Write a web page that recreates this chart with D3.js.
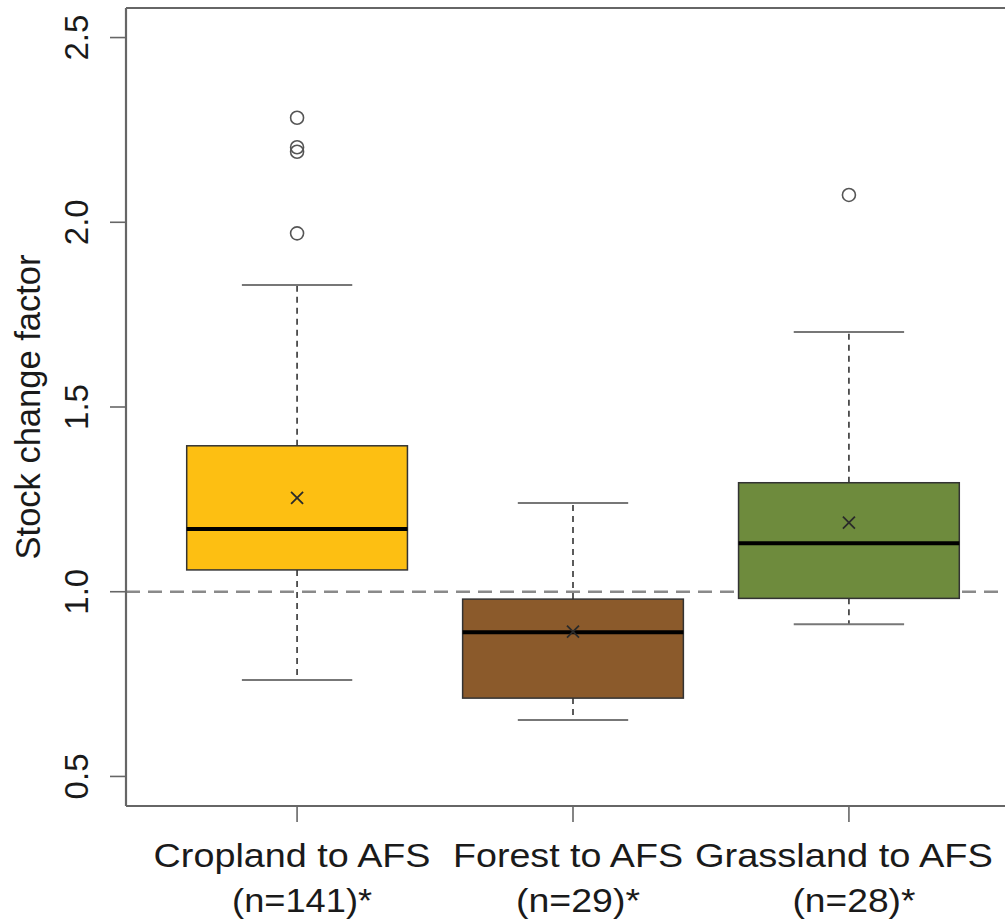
<!DOCTYPE html>
<html>
<head>
<meta charset="utf-8">
<script src="https://cdn.jsdelivr.net/npm/d3@7"></script>
<style>
  html, body { margin: 0; padding: 0; background: #fff; overflow: hidden; }
  svg { display: block; }
  text { font-family: "Liberation Sans", Arial, Helvetica, sans-serif; fill: #1a1a1a; }
</style>
</head>
<body>
<svg id="chart" width="1005" height="923"></svg>
<script>
// ---- data ----
const categories = ["Cropland to AFS", "Forest to AFS", "Grassland to AFS"];
const sampleLabels = ["(n=141)*", "(n=29)*", "(n=28)*"];
const whiskerLow = [0.761, 0.653, 0.912];
const q1 = [1.059, 0.712, 0.982];
const medians = [1.170, 0.890, 1.131];
const q3 = [1.395, 0.980, 1.295];
const whiskerHigh = [1.830, 1.240, 1.703];
const means = [1.254, 0.892, 1.187];
const outliers = [[2.283, 2.203, 2.191, 1.970], [], [2.074]];
const boxColors = ["#FDBF12", "#8B5A2B", "#6E8B3D"];
const yTicks = [0.5, 1.0, 1.5, 2.0, 2.5];
const referenceValue = 1.0;

// ---- layout ----
const svg = d3.select("#chart");
const plotLeft = 126, plotRight = 1020, plotTop = 8, plotBottom = 806;
const x = d3.scaleLinear().domain([0.38, 3.62]).range([plotLeft, plotRight]);
const y = d3.scaleLinear().domain([0.42, 2.58]).range([plotBottom, plotTop]);
const boxHalf = 0.4, capHalf = 0.2;
const axisColor = "#666";
// label typesetting (px), following the reference's slightly stretched text
const line1Shift = -5, line2Shift = 5;
const line1Len = [277, 230, 298], line2Len = [140, 124, 123];

// reference line
svg.append("line")
  .attr("x1", plotLeft).attr("x2", plotRight)
  .attr("y1", y(referenceValue)).attr("y2", y(referenceValue))
  .attr("stroke", "#8a8a8a").attr("stroke-width", 2.6)
  .attr("stroke-dasharray", "14,8");

const g = svg.append("g");
categories.forEach((c, i) => {
  const cx = x(i + 1);
  g.append("line").attr("x1", cx).attr("x2", cx)
    .attr("y1", y(q3[i])).attr("y2", y(whiskerHigh[i]))
    .attr("stroke", "#333").attr("stroke-width", 1.6).attr("stroke-dasharray", "6,5");
  g.append("line").attr("x1", cx).attr("x2", cx)
    .attr("y1", y(q1[i])).attr("y2", y(whiskerLow[i]))
    .attr("stroke", "#333").attr("stroke-width", 1.6).attr("stroke-dasharray", "6,5");
  [whiskerHigh[i], whiskerLow[i]].forEach(v => {
    g.append("line")
      .attr("x1", x(i + 1 - capHalf)).attr("x2", x(i + 1 + capHalf))
      .attr("y1", y(v)).attr("y2", y(v))
      .attr("stroke", "#777").attr("stroke-width", 2);
  });
  g.append("rect")
    .attr("x", x(i + 1 - boxHalf)).attr("width", x(i + 1 + boxHalf) - x(i + 1 - boxHalf))
    .attr("y", y(q3[i])).attr("height", y(q1[i]) - y(q3[i]))
    .attr("fill", boxColors[i]).attr("stroke", "#333").attr("stroke-width", 1.5);
  g.append("line")
    .attr("x1", x(i + 1 - boxHalf)).attr("x2", x(i + 1 + boxHalf))
    .attr("y1", y(medians[i])).attr("y2", y(medians[i]))
    .attr("stroke", "#000").attr("stroke-width", 4);
  // mean marker (x)
  const my = y(means[i]), s = 6;
  g.append("path")
    .attr("d", `M${cx - s},${my - s}L${cx + s},${my + s}M${cx - s},${my + s}L${cx + s},${my - s}`)
    .attr("stroke", "#2a2a2a").attr("stroke-width", 1.8).attr("fill", "none");
  outliers[i].forEach(v => {
    g.append("circle").attr("cx", cx).attr("cy", y(v)).attr("r", 6.5)
      .attr("fill", "none").attr("stroke", "#555").attr("stroke-width", 1.6);
  });
});

// frame: left, bottom, top
svg.append("line").attr("x1", plotLeft).attr("x2", plotLeft).attr("y1", plotTop).attr("y2", plotBottom)
  .attr("stroke", axisColor).attr("stroke-width", 2.2);
svg.append("line").attr("x1", plotLeft).attr("x2", plotRight).attr("y1", plotBottom).attr("y2", plotBottom)
  .attr("stroke", axisColor).attr("stroke-width", 2.2);
svg.append("line").attr("x1", plotLeft).attr("x2", plotRight).attr("y1", plotTop).attr("y2", plotTop)
  .attr("stroke", axisColor).attr("stroke-width", 2.2);

// y ticks
yTicks.forEach(t => {
  svg.append("line").attr("x1", plotLeft - 16).attr("x2", plotLeft)
    .attr("y1", y(t)).attr("y2", y(t)).attr("stroke", axisColor).attr("stroke-width", 1.6);
  svg.append("text")
    .attr("transform", `translate(88,${y(t)}) rotate(-90)`)
    .attr("text-anchor", "middle").attr("font-size", 33)
    .text(d3.format(".1f")(t));
});

// x ticks + labels
categories.forEach((c, i) => {
  const cx = x(i + 1);
  svg.append("line").attr("x1", cx).attr("x2", cx).attr("y1", plotBottom).attr("y2", plotBottom + 16)
    .attr("stroke", axisColor).attr("stroke-width", 1.6);
  svg.append("text").attr("x", cx + line1Shift).attr("y", 867).attr("text-anchor", "middle")
    .attr("font-size", 34).attr("textLength", line1Len[i]).attr("lengthAdjust", "spacingAndGlyphs")
    .text(c);
  svg.append("text").attr("x", cx + line2Shift).attr("y", 912).attr("text-anchor", "middle")
    .attr("font-size", 34).attr("textLength", line2Len[i]).attr("lengthAdjust", "spacingAndGlyphs")
    .text(sampleLabels[i]);
});

// y title
svg.append("text")
  .attr("transform", `translate(40,${(plotTop + plotBottom) / 2}) rotate(-90)`)
  .attr("text-anchor", "middle").attr("font-size", 34.5)
  .text("Stock change factor");
</script>
</body>
</html>
